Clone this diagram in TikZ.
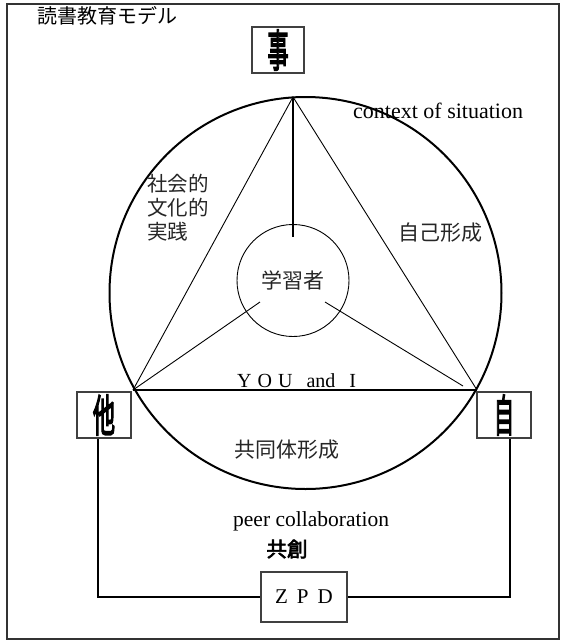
\documentclass[tikz,border=0pt]{standalone}
\usepackage{fontspec}
\usepackage{graphicx}
\setmainfont{Liberation Serif}
\newfontfamily\cjk{Noto Sans CJK JP}
\newfontfamily\cjkb{Noto Sans CJK JP}[FakeBold=3]
\newfontfamily\cjkbb{Noto Sans CJK JP}[FakeBold=4]
\newcommand\mybigfont{\cjkbb\fontsize{44}{44}\selectfont}
\tikzset{
  frame/.style={line width=1.5pt, draw=black!80},
  thick line/.style={line width=2pt},
  thin line/.style={line width=0.9pt},
  bigbox/.style={draw=black!75, line width=1.3pt, minimum width=52pt, minimum height=46pt, inner sep=0pt},
  jtext/.style={font=\cjk\fontsize{20.5}{24}\selectfont, text=black!85, inner sep=0pt},
  etext/.style={font=\fontsize{21.5}{24}\selectfont, inner sep=0pt},
}
\begin{document}
\begin{tikzpicture}[x=1pt,y=-1pt]
\useasboundingbox (0,0) rectangle (561,641);
\draw[frame] (7,4) rectangle (559,639);
% title
\node[jtext, anchor=west, font=\cjk\fontsize{20}{20}\selectfont, text=black] (title) at (37,16) {読書教育モデル};
% outer circle
\coordinate (C) at (305.5,293);
\draw[thick line] (C) circle[radius=196];
% vertices
\coordinate (T) at (293,97);
\coordinate (L) at (133,390);
\coordinate (R) at (477,390);
\draw[thin line] (L) -- (T) -- (R);
\draw[thick line] (L) -- (R);
% inner circle
\node[circle, draw, thin line, minimum size=112pt, inner sep=0pt, jtext, font=\cjk\fontsize{21}{21}\selectfont] (learner) at (293,280.5) {学習者};
\coordinate (vend) at (293,237);
\draw[thick line] (T) -- (vend);
\coordinate (li) at (260,302);
\coordinate (ri) at (325,302);
\coordinate (re) at (463,386);
\draw[thin line] (L) -- (li);
\draw[thin line] (ri) -- (re);
% big boxes
\node[bigbox] (koto) at (278,50) {\scalebox{0.48}[1]{\mybigfont 事}};
\node[bigbox, minimum width=54pt] (ta) at (104,415) {\scalebox{0.5}[1]{\mybigfont 他}};
\node[bigbox, minimum width=54pt] (ji) at (504,415) {\scalebox{0.45}[1]{\mybigfont 自}};
% labels
\node[etext, anchor=base west, font=\fontsize{22}{24}\selectfont] (ctx) at (353,118) {context of situation};
\node[jtext, anchor=north west, align=left] (shakai) at (147,174) {社会的\\文化的\\実践};
\node[jtext, font=\cjk\fontsize{21}{21}\selectfont] (jiko) at (440,233) {自己形成};
\node[etext, anchor=base west, font=\fontsize{20}{20}\selectfont] (you) at (237,387) {Y\hspace{6pt}O\hspace{6pt}U\hspace{14pt}and\hspace{14pt}I};
\node[jtext, font=\cjk\fontsize{21}{21}\selectfont] (kyodo) at (287,450) {共同体形成};
\node[etext, anchor=base west] (peer) at (233,526) {peer collaboration};
\node[jtext, font=\cjkb\fontsize{20.5}{20.5}\selectfont, text=black] (kyoso) at (287,549) {共創};
% ZPD
\node[draw=black!75, line width=1.3pt, minimum width=86pt, minimum height=50pt, inner sep=0pt, font=\fontsize{21}{21}\selectfont] (zpd) at (304,597) {Z\hspace{9pt}P\hspace{9pt}D};
\draw[thick line] ([xshift=-6pt]ta.south) |- (zpd.west);
\draw[thick line] ([xshift=6pt]ji.south) |- (zpd.east);
\end{tikzpicture}
\end{document}
